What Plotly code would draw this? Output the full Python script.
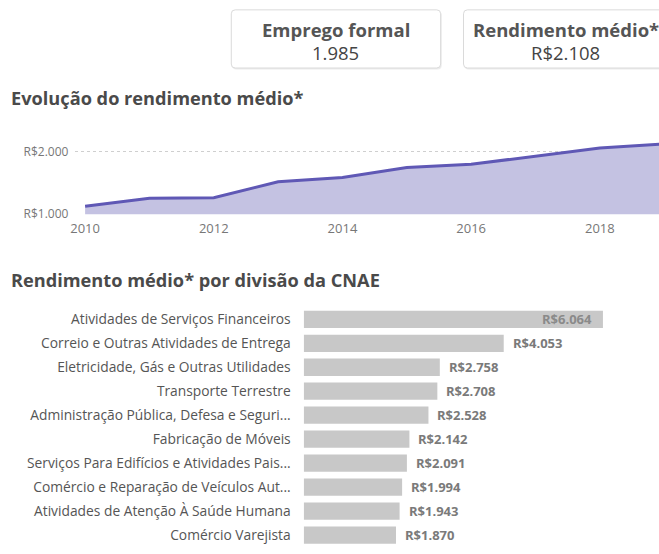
import plotly.graph_objects as go

W, H = 659, 554

# ---------------- data ----------------
card_titles = ["Emprego formal", "Rendimento médio*"]
card_values = ["1.985", "R$2.108"]

years = [2010, 2011, 2012, 2013, 2014, 2015, 2016, 2017, 2018, 2019]
rendimento = [1126, 1257, 1262, 1521, 1590, 1747, 1799, 1932, 2063, 2128]
year_ticks = [2010, 2012, 2014, 2016, 2018]
year_tick_labels = ["2010", "2012", "2014", "2016", "2018"]
rend_ticks = [1000, 2000]
rend_tick_labels = ["R$1.000", "R$2.000"]

cnae = [
    "Atividades de Serviços Financeiros",
    "Correio e Outras Atividades de Entrega",
    "Eletricidade, Gás e Outras Utilidades",
    "Transporte Terrestre",
    "Administração Pública, Defesa e Seguri...",
    "Fabricação de Móveis",
    "Serviços Para Edifícios e Atividades Pais...",
    "Comércio e Reparação de Veículos Aut...",
    "Atividades de Atenção À Saúde Humana",
    "Comércio Varejista",
]
cnae_values = [6064, 4053, 2758, 2708, 2528, 2142, 2091, 1994, 1943, 1870]
cnae_value_labels = ["R$6.064", "R$4.053", "R$2.758", "R$2.708", "R$2.528",
                     "R$2.142", "R$2.091", "R$1.994", "R$1.943", "R$1.870"]

FONT = "Open Sans"


def px(x):
    return x / W


def py(y):
    return 1 - y / H


fig = go.Figure()

fig.add_trace(go.Scatter(
    x=years, y=rendimento, mode="lines",
    line=dict(color="#5f58b5", width=3),
    fill="tozeroy", fillcolor="#c4c2e2",
    xaxis="x", yaxis="y", hoverinfo="skip",
))

fig.add_trace(go.Bar(
    x=cnae_values, y=cnae, orientation="h",
    marker=dict(color="#c8c8c8", line=dict(width=0)),
    width=0.72, xaxis="x2", yaxis="y2", hoverinfo="skip",
))

shapes = []
annotations = []


def rounded_rect(x0, y0, x1, y1, r):
    rx, ry = r / W, r / H
    X0, X1 = px(x0), px(x1)
    Y0, Y1 = py(y0), py(y1)  # Y0 top (higher), Y1 bottom
    return (f"M {X0 + rx},{Y0} L {X1 - rx},{Y0} Q {X1},{Y0} {X1},{Y0 - ry} "
            f"L {X1},{Y1 + ry} Q {X1},{Y1} {X1 - rx},{Y1} L {X0 + rx},{Y1} "
            f"Q {X0},{Y1} {X0},{Y1 + ry} L {X0},{Y0 - ry} Q {X0},{Y0} {X0 + rx},{Y0} Z")


cards = [(228, 10, 439, 69), (462, 10, 672, 69)]
for i, (x0, y0, x1, y1) in enumerate(cards):
    shapes.append(dict(type="path", xref="paper", yref="paper",
                       path=rounded_rect(x0 + 1, y0 + 1.5, x1 + 1, y1 + 1.5, 4),
                       fillcolor="#ececec", line=dict(width=0), layer="below"))
    shapes.append(dict(type="path", xref="paper", yref="paper",
                       path=rounded_rect(x0, y0, x1, y1, 4),
                       fillcolor="white", line=dict(color="#dadada", width=1), layer="below"))
    cx = (x0 + x1) / 2 if i == 0 else 565
    annotations.append(dict(x=px(cx), y=py(29.5), xref="paper", yref="paper",
                            text=f"<b>{card_titles[i]}</b>", showarrow=False,
                            xanchor="center", yanchor="middle",
                            font=dict(family=FONT, size=18.5, color="#555555")))
    annotations.append(dict(x=px(cx), y=py(53), xref="paper", yref="paper",
                            text=card_values[i], showarrow=False,
                            xanchor="center", yanchor="middle",
                            font=dict(family=FONT, size=18.5, color="#444444")))

annotations.append(dict(x=px(4), y=py(99), xref="paper", yref="paper",
                        text="<b>Evolução do rendimento médio*</b>", showarrow=False,
                        xanchor="left", yanchor="middle",
                        font=dict(family=FONT, size=18.2, color="#4a4a4a")))
annotations.append(dict(x=px(4), y=py(284), xref="paper", yref="paper",
                        text="<b>Rendimento médio* por divisão da CNAE</b>", showarrow=False,
                        xanchor="left", yanchor="middle",
                        font=dict(family=FONT, size=18.2, color="#4a4a4a")))

vmax = max(cnae_values)
for v, cat, lab in zip(cnae_values, cnae, cnae_value_labels):
    inside = v == vmax
    annotations.append(dict(x=v, y=cat, xref="x2", yref="y2", text=f"<b>{lab}</b>",
                            showarrow=False, xanchor="right" if inside else "left",
                            xshift=-9 if inside else 7, yanchor="middle",
                            font=dict(family=FONT, size=13, color="#8a8a8a" if inside else "#7a7a7a")))

fig.update_layout(
    width=W, height=H,
    margin=dict(l=0, r=0, t=0, b=0),
    paper_bgcolor="white", plot_bgcolor="white",
    showlegend=False,
    shapes=shapes, annotations=annotations,
    font=dict(family=FONT, color="#555555"),
    xaxis=dict(domain=[px(71), 1], range=[2009.85, 2018.92],
               tickvals=year_ticks, ticktext=year_tick_labels,
               showgrid=False, zeroline=False, showline=False, ticks="",
               ticklabelstandoff=5,
               tickfont=dict(family=FONT, size=13, color="#777777")),
    yaxis=dict(domain=[py(217.3), py(141.4)], range=[1000, 2200],
               tickvals=rend_ticks, ticktext=rend_tick_labels,
               showgrid=True, gridcolor="#cfcfcf", griddash="dot", gridwidth=1,
               zeroline=False, showline=False, ticks="", ticklabelstandoff=6,
               tickfont=dict(family=FONT, size=12, color="#777777")),
    xaxis2=dict(domain=[px(301), 1], range=[0, 7200], visible=False),
    yaxis2=dict(domain=[0, py(311.8)], range=[9.455, -0.5], anchor="x2",
                showgrid=False, zeroline=False, showline=False, ticks="",
                ticklabelstandoff=12,
                tickfont=dict(family=FONT, size=13.8, color="#555555")),
)

post = (
    "var s=document.createElement('style');"
    "s.textContent='html,body{margin:0 !important;padding:0 !important;overflow:hidden !important;"
    "width:659px !important;height:554px !important;} .plotly-graph-div{display:block;}"
    " body>div{height:554px;overflow:hidden;}';"
    "document.head.appendChild(s);"
    "document.body.style.margin='0';document.body.style.padding='0';"
)

fig.write_html("out.html", config={"displayModeBar": False}, post_script=post)
